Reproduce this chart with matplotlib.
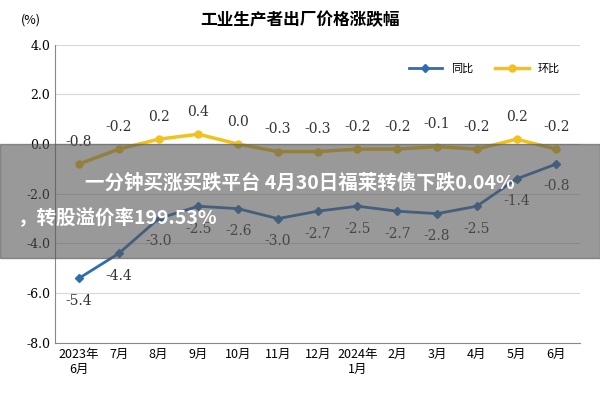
import matplotlib.pyplot as plt

plt.rcParams["font.family"] = ["Noto Sans CJK SC", "DejaVu Sans"]

months = ["2023年\n6月", "7月", "8月", "9月", "10月", "11月", "12月", "2024年\n1月",
          "2月", "3月", "4月", "5月", "6月"]
yoy = [-5.4, -4.4, -3.0, -2.5, -2.6, -3.0, -2.7, -2.5, -2.7, -2.8, -2.5, -1.4, -0.8]
mom = [-0.8, -0.2, 0.2, 0.4, 0.0, -0.3, -0.3, -0.2, -0.2, -0.1, -0.2, 0.2, -0.2]
yticks = [4, 2, 0, -2, -4, -6, -8]

blue = "#2e6db4"
gold = "#f2c21b"

fig = plt.figure(figsize=(6, 4), dpi=100)
ax = fig.add_axes([0.092, 0.143, 0.875, 0.745])
x = list(range(len(months)))
ax.plot(x, yoy, color=blue, lw=2, marker="D", ms=4, label="同比")
ax.plot(x, mom, color=gold, lw=2.5, marker="o", ms=5, label="环比")
for i in x:
    ax.text(i, mom[i] + 0.9, f"{mom[i]:.1f}", ha="center", va="center",
            fontsize=10, family="serif", color="#333")
    ax.text(i, yoy[i] - 0.9, f"{yoy[i]:.1f}", ha="center", va="center",
            fontsize=10, family="serif", color="#333")
ax.set_ylim(-8, 4)
ax.set_xlim(-0.6, 12.6)
ax.set_yticks(yticks)
ax.set_yticklabels([f"{v:.1f}" for v in yticks], family="serif", fontsize=9)
ax.set_xticks(x)
ax.set_xticklabels(months, fontsize=9)
ax.grid(axis="y", color="#d8d8d8", lw=0.8)
for s in ["top", "right"]:
    ax.spines[s].set_visible(False)
ax.spines["left"].set_color("#888")
ax.spines["bottom"].set_color("#888")
ax.tick_params(length=0)
ax.legend(loc="upper right", bbox_to_anchor=(0.98, 0.97), ncol=2, frameon=False,
          fontsize=8, handlelength=3)
fig.text(0.5, 0.95, "工业生产者出厂价格涨跌幅", ha="center", va="center",
         fontsize=12, weight="bold")
fig.text(0.035, 0.95, "(%)", fontsize=9, va="center")

# grey caption banner over the chart
fig.patches.append(plt.Rectangle((0, 0.355), 1, 0.285, transform=fig.transFigure,
                                 color="#555555", alpha=0.6, zorder=5))
fig.text(0.5, 0.543, "一分钟买涨买跌平台 4月30日福莱转债下跌0.04%", ha="center",
         va="center", fontsize=14, weight="bold", color="white", zorder=6)
fig.text(0.03, 0.455, "，转股溢价率199.53%", ha="left", va="center",
         fontsize=14, weight="bold", color="white", zorder=6)

fig.savefig("out.png", dpi=100)
